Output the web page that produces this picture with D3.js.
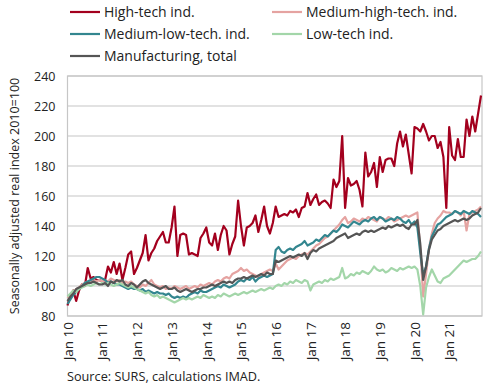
<!DOCTYPE html>
<html>
<head>
<meta charset="utf-8">
<script src="https://cdn.jsdelivr.net/npm/d3@7"></script>
<style>
  body { margin: 0; background: #fff; }
  text { font-family: "Open Sans", sans-serif; fill: #222; }
</style>
</head>
<body>
<div id="vis"></div>
<script>
// monthly values, Jan 2010 - Dec 2021
const highTech = [
  87, 94, 97, 90, 97, 101, 100, 112, 105, 106, 104, 104,
  103, 104, 113, 109, 116, 108, 115, 104, 112, 121, 123, 108,
  112, 117, 122, 134, 117, 122, 125, 130, 133, 136, 129, 129,
  139, 153, 120, 134, 135, 134, 121, 122, 121, 120, 132, 135,
  139, 129, 127, 135, 124, 134, 140, 137, 121, 128, 133, 157,
  140, 127, 139, 140, 142, 147, 136, 144, 153, 140, 135, 142,
  153, 146, 147, 148, 147, 150, 149, 151, 146, 152, 153, 162,
  154, 158, 161, 154, 156, 157, 155, 152, 171, 166, 170, 200,
  152, 172, 167, 168, 170, 164, 153, 189, 173, 176, 182, 166,
  186, 176, 184, 185, 185, 180, 195, 203, 193, 201, 188, 175,
  206, 205, 203, 208, 203, 197, 200, 200, 192, 196, 186, 152,
  206, 187, 184, 198, 186, 186, 211, 200, 213, 203, 215, 227
];
const mediumHighTech = [
  92, 94, 96, 98, 99, 101, 102, 103, 103, 104, 103, 104,
  103, 104, 103, 105, 104, 103, 104, 102, 103, 102, 103, 101,
  100, 99, 101, 100, 102, 104, 101, 100, 99, 100, 98, 99,
  98, 100, 99, 98, 99, 100, 98, 99, 100, 99, 101, 100,
  101, 102, 101, 103, 104, 103, 105, 106, 105, 108, 109, 110,
  112, 110, 111, 109, 108, 107, 106, 108, 109, 110, 111, 110,
  115, 111, 113, 115, 117, 118, 119, 118, 120, 121, 122, 121,
  123, 125, 127, 128, 130, 132, 133, 135, 137, 139, 141, 144,
  146, 142, 143, 145, 144, 143, 145, 144, 146, 145, 144, 143,
  146, 145, 144, 146, 145, 143, 144, 145, 146, 147, 146, 147,
  148, 149, 125, 93, 108, 125, 135, 142, 145, 147, 150, 149,
  149, 148, 150, 149, 147, 150, 137, 148, 149, 150, 151, 153
];
const mediumLowTech = [
  88, 91, 94, 96, 98, 100, 102, 103, 104, 105, 106, 106,
  105, 104, 102, 103, 102, 101, 101, 100, 99, 98, 99, 98,
  98, 97, 98, 96, 97, 96, 95, 96, 95, 95, 94, 95,
  93, 92, 93, 92, 93, 92, 94, 95, 96, 95, 97, 96,
  96, 97, 98, 99, 100, 99, 101, 100, 99, 100, 101, 103,
  104, 103, 105, 104, 106, 103, 105, 106, 107, 106, 107, 108,
  124, 126, 123, 122, 124, 125, 124, 126, 127, 128, 130, 127,
  128, 129, 131, 130, 132, 134, 133, 135, 137, 136, 138, 141,
  140, 139, 141, 143, 142, 141, 143, 144, 143, 145, 146, 144,
  146, 145, 143, 144, 145, 144, 146, 145, 143, 142, 144, 141,
  143, 139, 122, 107, 113, 125, 133, 137, 141, 142, 144, 146,
  147, 148, 150, 149, 148, 150, 149, 148, 150, 149, 148, 146
];
const lowTech = [
  93, 95, 97, 96, 98, 99, 100, 101, 100, 101, 102, 101,
  102, 101, 102, 101, 100, 101, 102, 101, 100, 99, 100, 99,
  98, 97, 96, 95, 96, 94, 93, 94, 92, 93, 92, 91,
  90, 89, 90, 91, 92, 91, 92, 91, 92, 93, 92, 94,
  93, 92, 93, 92, 94, 93, 95, 94, 93, 94, 95, 94,
  95, 96, 95, 96, 97, 96, 97, 98, 97, 98, 99, 98,
  100, 101, 100, 102, 101, 103, 102, 104, 103, 102, 104, 103,
  97, 101, 102, 103, 102, 104, 103, 105, 104, 105, 106, 112,
  105, 106, 108, 107, 109, 108, 110, 109, 108, 110, 113, 111,
  110, 111, 109, 110, 112, 111, 110, 112, 111, 112, 113, 112,
  113, 111, 100, 81, 99, 106, 111, 107, 103, 102, 105, 106,
  107, 109, 111, 113, 115, 117, 116, 117, 118, 118, 120, 123
];
const manufacturingTotal = [
  90, 93, 95, 98, 99, 100, 101, 102, 102, 103, 102, 101,
  101, 102, 100, 103, 102, 104, 103, 104, 101, 100, 102, 101,
  99, 101, 103, 104, 102, 101, 100, 99, 98, 99, 100, 98,
  98, 99, 97, 96, 97, 98, 97, 96, 97, 98, 98, 99,
  99, 100, 101, 100, 101, 102, 103, 102, 103, 102, 104, 105,
  105, 106, 105, 106, 107, 106, 107, 108, 107, 109, 108, 108,
  117, 116, 117, 118, 119, 120, 119, 120, 121, 120, 122, 118,
  122, 124, 123, 125, 126, 127, 128, 129, 130, 132, 133, 134,
  135, 132, 133, 134, 135, 134, 136, 137, 136, 137, 136, 137,
  138, 139, 138, 140, 139, 140, 141, 140, 141, 139, 138, 141,
  141, 144, 128, 104, 113, 124, 131, 134, 137, 138, 140, 141,
  142, 143, 144, 143, 144, 145, 144, 145, 147, 148, 149, 152
];

const xTickLabels = ["Jan 10", "Jan 11", "Jan 12", "Jan 13", "Jan 14", "Jan 15",
  "Jan 16", "Jan 17", "Jan 18", "Jan 19", "Jan 20", "Jan 21"];
const yTicks = [80, 100, 120, 140, 160, 180, 200, 220, 240];
const seriesNames = ["High-tech ind.", "Medium-high-tech. ind.", "Medium-low-tech. ind.",
  "Low-tech ind.", "Manufacturing, total"];

const colors = ["#a3001e", "#e5a3a1", "#33868f", "#a3d6a9", "#555555"];

const width = 490, height = 388;
const plot = { left: 67.5, right: 482, top: 76, bottom: 316 };

var svg = d3.select("#vis")
  .append("svg")
  .attr("width", width)
  .attr("height", height);

var x = d3.scaleLinear()
  .domain([0, highTech.length - 1])
  .range([plot.left, plot.right - 1]);

var y = d3.scaleLinear()
  .domain([80, 240])
  .range([plot.bottom, plot.top]);

// grid lines
svg.append("g")
  .selectAll("line")
  .data(yTicks)
  .enter()
  .append("line")
  .attr("x1", plot.left)
  .attr("x2", plot.right)
  .attr("y1", d => y(d))
  .attr("y2", d => y(d))
  .attr("stroke", "#c6c6c6")
  .attr("stroke-width", 1.2);

// plot border
svg.append("rect")
  .attr("x", plot.left)
  .attr("y", plot.top)
  .attr("width", plot.right - plot.left)
  .attr("height", plot.bottom - plot.top)
  .attr("fill", "none")
  .attr("stroke", "#c6c6c6")
  .attr("stroke-width", 1.2);

// y axis
var yAxis = svg.append("g")
  .attr("transform", "translate(" + plot.left + ",0)")
  .call(d3.axisLeft(y).tickValues(yTicks).tickSize(0).tickPadding(12));
yAxis.select(".domain").remove();
yAxis.selectAll("text")
  .style("font-family", "'Open Sans', sans-serif")
  .style("font-size", "12.5px")
  .attr("fill", "#222");

// x axis labels (rotated)
var xAxis = svg.append("g")
  .attr("transform", "translate(0," + plot.bottom + ")")
  .call(d3.axisBottom(x)
    .tickValues(xTickLabels.map((d, i) => i * 12))
    .tickFormat((d, i) => xTickLabels[i])
    .tickSize(0));
xAxis.select(".domain").remove();
xAxis.selectAll("text")
  .style("font-family", "'Open Sans', sans-serif")
  .style("font-size", "13.5px")
  .attr("fill", "#222")
  .attr("text-anchor", "end")
  .attr("transform", "rotate(-90)")
  .attr("x", -6)
  .attr("y", 0)
  .attr("dy", "0.35em");

// series lines
var allSeries = [highTech, mediumHighTech, mediumLowTech, lowTech, manufacturingTotal];
var line = d3.line()
  .x((d, i) => x(i))
  .y(d => y(d));

svg.append("g")
  .selectAll("path")
  .data(allSeries)
  .enter()
  .append("path")
  .attr("d", d => line(d))
  .attr("fill", "none")
  .attr("stroke", (d, i) => colors[i])
  .attr("stroke-width", 2.2)
  .attr("stroke-linejoin", "round");

// legend
var legendPos = [[70, 12], [272, 12], [70, 34], [272, 34], [70, 56]];
var legend = svg.append("g")
  .selectAll("g")
  .data(seriesNames)
  .enter()
  .append("g")
  .attr("transform", (d, i) => "translate(" + legendPos[i][0] + "," + legendPos[i][1] + ")");
legend.append("line")
  .attr("x1", 0).attr("x2", 30)
  .attr("stroke", (d, i) => colors[i])
  .attr("stroke-width", 2.2);
legend.append("text")
  .attr("x", 34)
  .attr("dy", "0.35em")
  .style("font-size", "14px")
  .text(d => d);

// y axis title
svg.append("text")
  .attr("transform", "translate(15," + ((plot.top + plot.bottom) / 2) + ") rotate(-90)")
  .attr("text-anchor", "middle")
  .attr("dy", "0.35em")
  .style("font-size", "12.5px")
  .text("Seasonally adjusted real index 2010=100");

// source
svg.append("text")
  .attr("x", 67)
  .attr("y", 381)
  .style("font-size", "12.7px")
  .text("Source: SURS, calculations IMAD.");
</script>
</body>
</html>
